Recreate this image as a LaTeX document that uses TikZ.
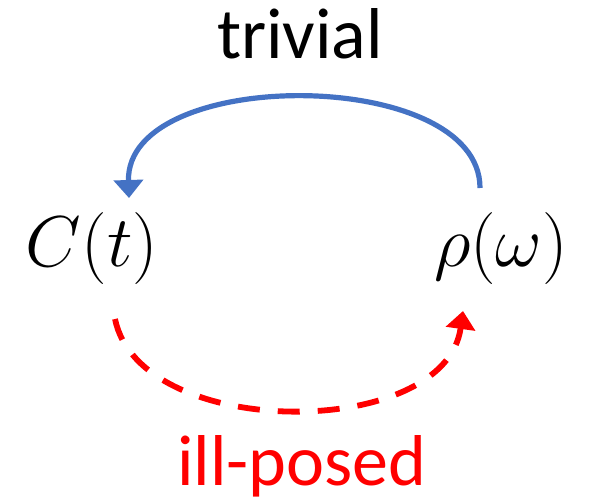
\RequirePackage{fix-cm}
\documentclass[tikz,border=0pt]{standalone}
\usepackage{fontspec}
\setmainfont{Carlito}
\usetikzlibrary{arrows.meta}
\definecolor{arcblue}{HTML}{4472C4}

\begin{document}
\begin{tikzpicture}[x=0.5pt,y=-0.5pt,
  word/.style={font=\fontsize{36}{40}\selectfont, anchor=base},
  quantity/.style={font=\fontsize{36}{40}\selectfont, anchor=base},
  tip/.style={-{Triangle[length=9pt,width=14.5pt]}},
  easyarc/.style={tip, arcblue, line width=2.6pt},
  hardarc/.style={tip, red, line width=2.9pt, dash pattern=on 11pt off 9pt}]
  \useasboundingbox (0,0) rectangle (594,503);

  \node[quantity] (corr) at (92,266) {$C(t)$};
  \node[quantity] (spec) at (501,266) {$\rho(\omega)$};
  \node[word] (easy) at (300,58) {trivial};
  \node[word, red] (hard) at (302,485) {ill-posed};

  % spectral function back to correlator
  \draw[easyarc] ([shift={(-10.5pt,8.5pt)}]spec.north) .. controls +(0,-122) and +(-4,-132) .. ([shift={(18.5pt,3.5pt)}]corr.north);
  % correlator to spectral function (inversion)
  \draw[hardarc] ([shift={(11.5pt,-14pt)}]corr.south) .. controls +(25,122) and +(-18,130) .. ([shift={(-19pt,-10pt)}]spec.south);
\end{tikzpicture}
\end{document}
